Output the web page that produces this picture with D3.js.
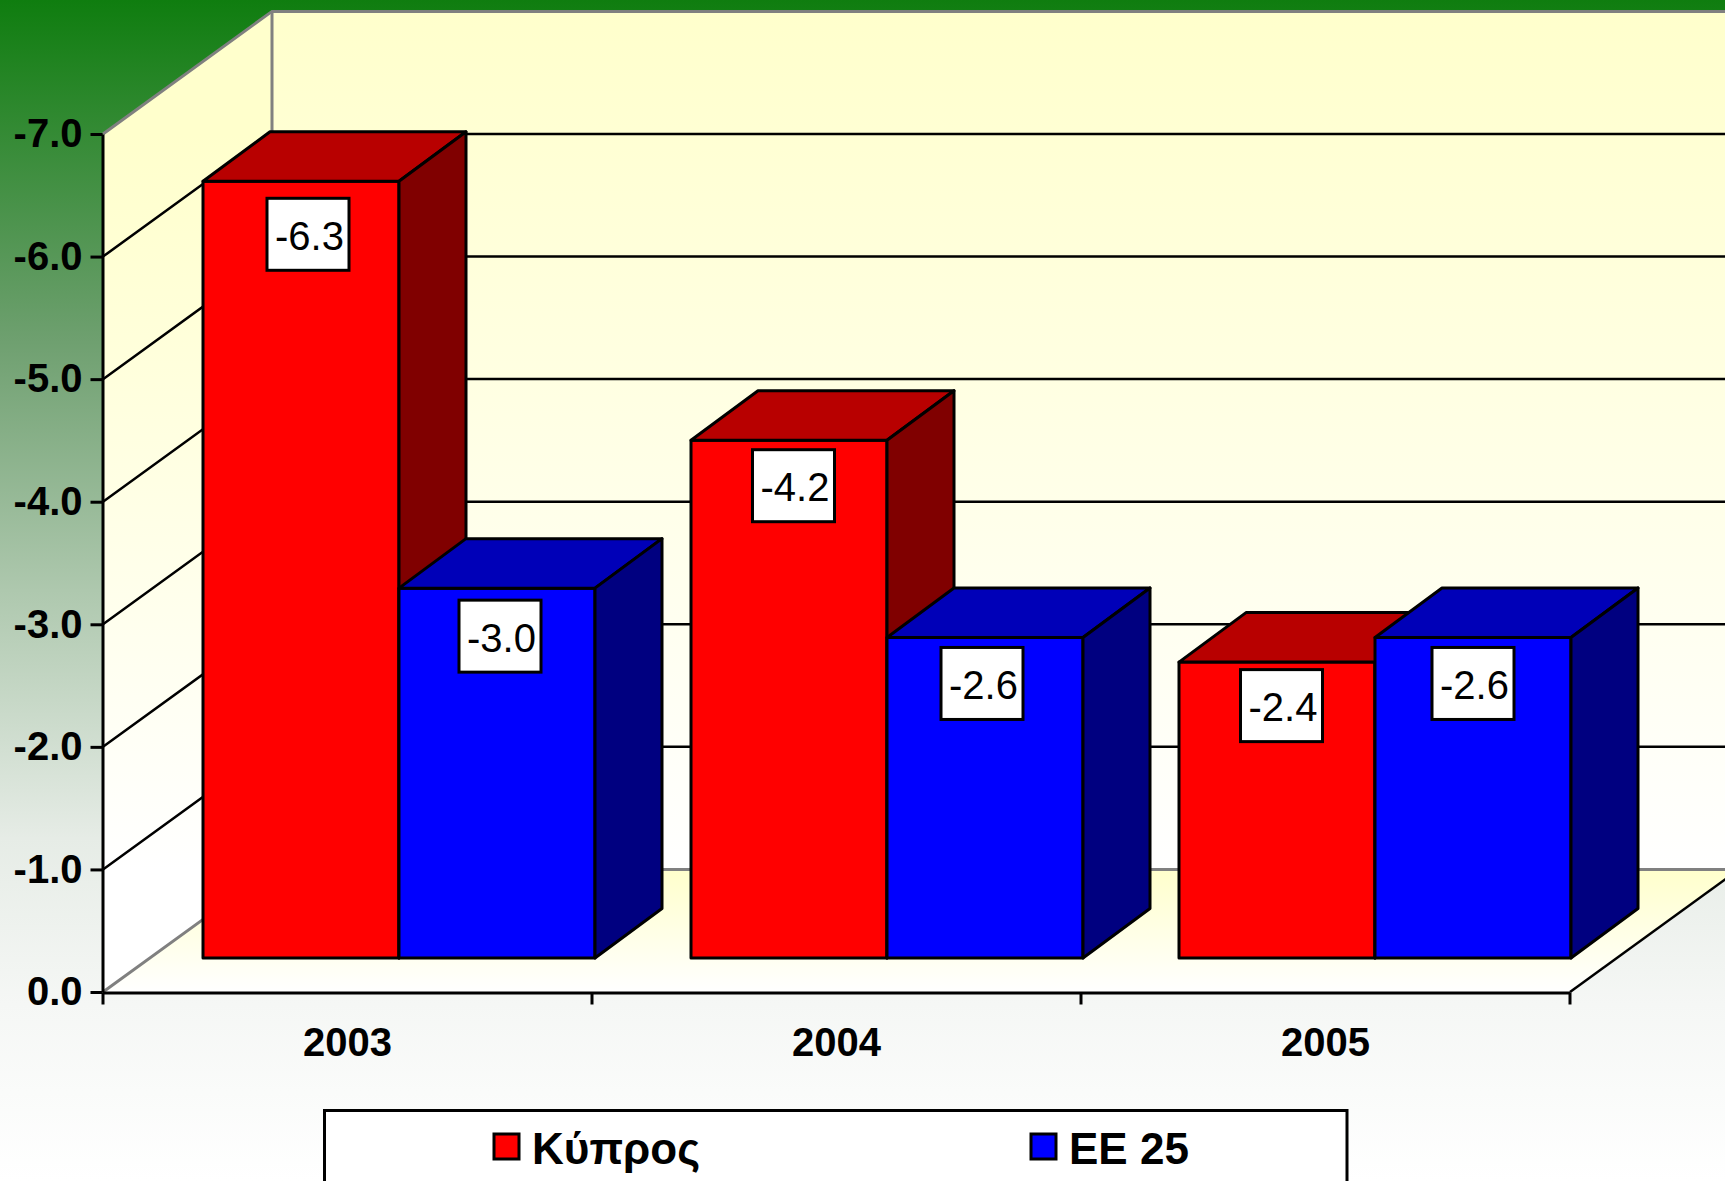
<!DOCTYPE html>
<html>
<head>
<meta charset="utf-8">
<script src="https://cdnjs.cloudflare.com/ajax/libs/d3/7.8.5/d3.min.js"></script>
<style>
html,body{margin:0;padding:0;background:#fff;overflow:hidden}
svg{display:block}
text{font-family:"Liberation Sans",Arial,sans-serif}
</style>
</head>
<body>
<svg id="c" width="1725" height="1181"></svg>
<script>
const categories = ["2003", "2004", "2005"];
const seriesNames = ["Κύπρος", "ΕΕ 25"];
const cyprus = [-6.3, -4.2, -2.4];
const eu25 = [-3.0, -2.6, -2.6];
const yTicks = [0, -1, -2, -3, -4, -5, -6, -7];
// Layout only: where the label boxes sit relative to their bar
const cyprusLabelNudge = [[7, 17], [4.5, 9.5], [4.5, 7.5]];
const eu25LabelNudge = [[3, 12], [-3, 10], [0, 10]];

const seriesStyles = [
  {front: "#ff0000", top: "#b80000", side: "#800000"},
  {front: "#0000ff", top: "#0000b8", side: "#000080"}
];
const L = {x0: 103, x1: 1570, y0: 992, y7: 134, depthX: 169, depthY: 122.6,
           barX0: 203, barX1: 1667, barW: 196, barY0: 958, barY7: 95, barDX: 67, barDY: 49.5};

const svg = d3.select("#c");
const defs = svg.append("defs");
function grad(id, y1, y2, stops) {
  const g = defs.append("linearGradient").attr("id", id).attr("gradientUnits", "userSpaceOnUse")
    .attr("x1", 0).attr("x2", 0).attr("y1", y1).attr("y2", y2);
  stops.forEach(s => g.append("stop").attr("offset", s[0]).attr("stop-color", s[1]));
}
grad("bg", 0, 1181, [[0, "#0f7d0f"], [0.29, "#6fa070"], [0.5, "#aec8ae"], [0.71, "#e6ece6"], [0.85, "#f5f7f5"], [1, "#ffffff"]]);
grad("wallL", 134, 870, [[0, "#ffffcc"], [1, "#ffffff"]]);
grad("wallB", 11, 870, [[0, "#ffffcc"], [1, "#ffffff"]]);
grad("floor", 870, 992, [[0, "#ffffcc"], [1, "#ffffff"]]);

svg.append("rect").attr("width", 1725).attr("height", 1181).attr("fill", "url(#bg)");

const y = d3.scaleLinear().domain([0, -7]).range([L.y0, L.y7]);
const yBar = d3.scaleLinear().domain([0, -7]).range([L.barY0, L.barY7]);
const xBand = d3.scaleBand().domain(categories).range([L.x0, L.x1]);
const xBars = d3.scaleBand().domain(categories).range([L.barX0, L.barX1]);
const xEdge = d3.scaleLinear().domain([0, categories.length]).range([L.x0, L.x1]);
const D = {x: L.depthX, y: L.depthY};
const line = d3.line();

// Walls and floor
const g3d = svg.append("g");
g3d.append("path").attr("fill", "url(#wallL)")
  .attr("d", line([[L.x0, y(0)], [L.x0, y(-7)], [L.x0 + D.x, y(-7) - D.y], [L.x0 + D.x, y(0) - D.y]]) + "Z");
g3d.append("path").attr("fill", "url(#wallB)")
  .attr("d", line([[L.x0 + D.x, y(-7) - D.y], [L.x1 + D.x, y(-7) - D.y], [L.x1 + D.x, y(0) - D.y], [L.x0 + D.x, y(0) - D.y]]) + "Z");
g3d.append("path").attr("fill", "url(#floor)")
  .attr("d", line([[L.x0, y(0)], [L.x0 + D.x, y(0) - D.y], [L.x1 + D.x, y(0) - D.y], [L.x1, y(0)]]) + "Z");

// Grid
const inner = yTicks.filter(v => v !== 0 && v !== -7);
g3d.selectAll("path.grid").data(inner).join("path").attr("class", "grid")
  .attr("fill", "none").attr("stroke", "#000").attr("stroke-width", 2.5)
  .attr("d", v => line([[L.x0, y(v)], [L.x0 + D.x, y(v) - D.y], [L.x1 + D.x, y(v) - D.y]]));
g3d.selectAll("path.edge").data([0, -7]).join("path").attr("class", "edge")
  .attr("fill", "none").attr("stroke", "#808080").attr("stroke-width", 3)
  .attr("d", v => line([[L.x0, y(v)], [L.x0 + D.x, y(v) - D.y], [L.x1 + D.x, y(v) - D.y]]));
g3d.append("path").attr("fill", "none").attr("stroke", "#808080").attr("stroke-width", 3)
  .attr("d", line([[L.x0 + D.x, y(-7) - D.y], [L.x0 + D.x, y(0) - D.y]]));
g3d.append("path").attr("fill", "none").attr("stroke", "#000").attr("stroke-width", 2.5)
  .attr("d", line([[L.x1, y(0)], [L.x1 + D.x, y(0) - D.y]]));

// Axes
const tickFont = g => g.selectAll("text").attr("font-size", 40).attr("font-weight", "bold").attr("fill", "#000");
const yAxis = d3.axisLeft(y).tickValues(yTicks).tickFormat(d => d.toFixed(1)).tickSize(12).tickSizeOuter(0).tickPadding(8);
svg.append("g").attr("transform", `translate(${L.x0 - 0.5},0)`).call(yAxis).call(tickFont)
  .call(g => g.selectAll("line,path").attr("stroke", "#000").attr("stroke-width", 3));
const edgeAxis = d3.axisBottom(xEdge).tickValues(d3.range(categories.length + 1)).tickFormat("").tickSize(12).tickSizeOuter(0);
svg.append("g").attr("transform", `translate(-0.5,${L.y0 + 0.5})`).call(edgeAxis)
  .call(g => g.selectAll("line,path").attr("stroke", "#000").attr("stroke-width", 3));
const xAxis = d3.axisBottom(xBand).tickSize(0).tickPadding(36);
svg.append("g").attr("transform", `translate(0,${L.y0})`).call(xAxis).call(tickFont)
  .call(g => { g.select("path").remove(); g.selectAll("line").remove(); });

// Bars
const rows = [];
categories.forEach((c, i) => {
  [cyprus, eu25].forEach((vals, s) => rows.push({c, i, s, v: vals[i],
    nudge: (s === 0 ? cyprusLabelNudge : eu25LabelNudge)[i]}));
});
const bars = svg.append("g").selectAll("g").data(rows).join("g")
  .attr("stroke", "#000").attr("stroke-width", 3).attr("stroke-linejoin", "round");
const bx = d => xBars(d.c) + d.s * L.barW;
const by = d => yBar(d.v);
const bb = () => yBar(0);
bars.append("rect").attr("x", bx).attr("y", by).attr("width", L.barW).attr("height", d => bb() - by(d))
  .attr("fill", d => seriesStyles[d.s].front);
bars.append("path").attr("fill", d => seriesStyles[d.s].top)
  .attr("d", d => line([[bx(d), by(d)], [bx(d) + L.barDX, by(d) - L.barDY], [bx(d) + L.barW + L.barDX, by(d) - L.barDY], [bx(d) + L.barW, by(d)]]) + "Z");
bars.append("path").attr("fill", d => seriesStyles[d.s].side)
  .attr("d", d => line([[bx(d) + L.barW, by(d)], [bx(d) + L.barW + L.barDX, by(d) - L.barDY], [bx(d) + L.barW + L.barDX, bb() - L.barDY], [bx(d) + L.barW, bb()]]) + "Z");

// Data labels, drawn above every bar
const labels = svg.append("g").selectAll("g").data(rows).join("g")
  .attr("transform", d => `translate(${bx(d) + L.barW / 2 + d.nudge[0]},${by(d) + d.nudge[1]})`);
labels.append("rect").attr("x", -41).attr("y", 0).attr("width", 82).attr("height", 72)
  .attr("fill", "#fff").attr("stroke", "#000").attr("stroke-width", 3);
labels.append("text").attr("text-anchor", "middle").attr("y", 51.5).attr("x", 1.5)
  .attr("font-size", 40).attr("fill", "#000").text(d => d.v.toFixed(1));

// Legend
const lg = svg.append("g");
lg.append("rect").attr("x", 324.5).attr("y", 1110.5).attr("width", 1022.5).attr("height", 120)
  .attr("fill", "#fff").attr("stroke", "#000").attr("stroke-width", 3);
const items = lg.selectAll("g").data(seriesNames).join("g")
  .attr("transform", (d, i) => `translate(${[494, 1031][i]},1134)`);
items.append("rect").attr("width", 25).attr("height", 25)
  .attr("fill", (d, i) => seriesStyles[i].front).attr("stroke", "#000").attr("stroke-width", 3);
items.append("text").attr("x", 38).attr("y", 29.5).attr("font-size", 44).attr("font-weight", "bold")
  .attr("fill", "#000").text(d => d);
</script>
</body>
</html>
